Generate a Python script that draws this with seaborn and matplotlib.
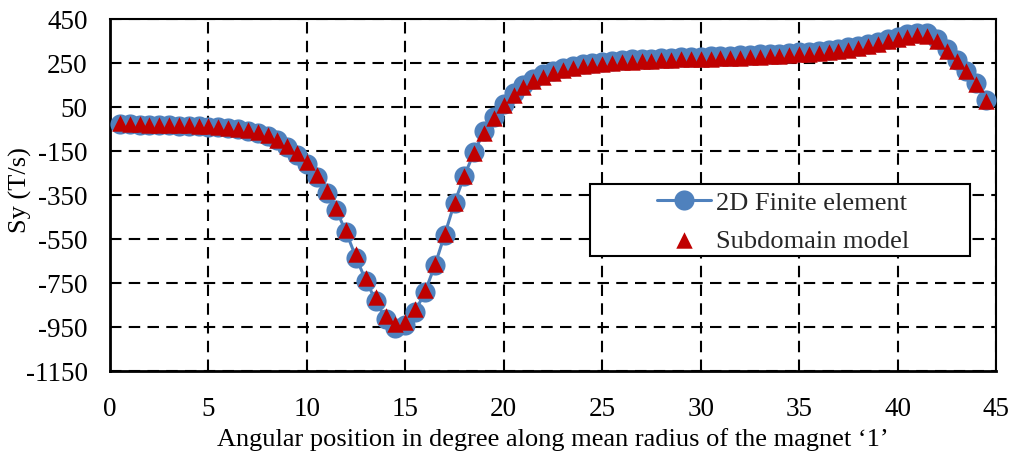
import matplotlib
matplotlib.use("Agg")
import matplotlib.pyplot as plt
import seaborn as sns
import pandas as pd
from matplotlib.patches import Rectangle

angle = [0.5, 1.0, 1.5, 2.0, 2.5, 3.0, 3.5, 4.0, 4.5, 5.0,
         5.5, 6.0, 6.5, 7.0, 7.5, 8.0, 8.5, 9.0, 9.5, 10.0,
         10.5, 11.0, 11.5, 12.0, 12.5, 13.0, 13.5, 14.0, 14.5, 15.0,
         15.5, 16.0, 16.5, 17.0, 17.5, 18.0, 18.5, 19.0, 19.5, 20.0,
         20.5, 21.0, 21.5, 22.0, 22.5, 23.0, 23.5, 24.0, 24.5, 25.0,
         25.5, 26.0, 26.5, 27.0, 27.5, 28.0, 28.5, 29.0, 29.5, 30.0,
         30.5, 31.0, 31.5, 32.0, 32.5, 33.0, 33.5, 34.0, 34.5, 35.0,
         35.5, 36.0, 36.5, 37.0, 37.5, 38.0, 38.5, 39.0, 39.5, 40.0,
         40.5, 41.0, 41.5, 42.0, 42.5, 43.0, 43.5, 44.0, 44.5]

fe_2d = [-25, -29, -31, -32, -33, -34, -35, -36, -38, -40,
         -43, -47, -52, -58, -66, -80, -102, -132, -168, -210,
         -268, -340, -420, -520, -635, -740, -830, -915, -955, -940,
         -880, -790, -670, -530, -385, -262, -155, -60, 5, 65,
         115, 150, 178, 198, 214, 227, 237, 245, 251, 256,
         260, 263, 266, 268, 270, 272, 274, 276, 277, 279,
         280, 282, 283, 285, 287, 289, 291, 293, 296, 299,
         302, 306, 310, 315, 321, 328, 337, 347, 358, 370,
         381, 388, 385, 360, 312, 262, 215, 160, 80]

subdomain = [-22, -27, -29, -30, -31, -32, -33, -34, -36, -38,
             -41, -45, -50, -56, -64, -77, -98, -126, -160, -200,
             -258, -330, -410, -508, -620, -725, -815, -900, -935, -925,
             -868, -780, -662, -525, -385, -265, -160, -66, -2, 58,
             106, 140, 168, 188, 204, 217, 227, 235, 241, 246,
             250, 253, 256, 258, 260, 262, 264, 266, 267, 269,
             270, 272, 273, 275, 277, 279, 281, 283, 286, 289,
             292, 296, 300, 305, 311, 318, 327, 337, 348, 360,
             370, 376, 372, 348, 305, 258, 212, 155, 78]

df = pd.DataFrame({"angle": angle, "fe": fe_2d, "sub": subdomain})

sns.set_theme(style="white")
plt.rcParams["font.family"] = ["Liberation Serif", "DejaVu Serif"]
plt.rcParams["axes.unicode_minus"] = False

fig = plt.figure(figsize=(10.11, 4.56), dpi=100)
ax = fig.add_axes([110 / 1011, 1 - 372 / 456, 886 / 1011, 352 / 456])

sns.lineplot(data=df, x="angle", y="fe", ax=ax, color="#4F81BD", linewidth=2.2,
             marker="o", markersize=14.5, markeredgewidth=0, label="2D Finite element",
             zorder=3)
sns.scatterplot(data=df, x="angle", y="sub", ax=ax, color="#C00000", marker="^",
                s=140, linewidth=0, label="Subdomain model", zorder=4)

ax.set_xlim(0, 45)
ax.set_ylim(-1150, 450)
ax.set_xticks(range(0, 46, 5))
ax.set_yticks(range(-1150, 451, 200))
ax.tick_params(axis="both", length=0, labelsize=19.5, colors="black")
ax.tick_params(axis="y", pad=16)
ax.tick_params(axis="x", pad=18)
ax.grid(True, color="black", linestyle=(0, (5.5, 3.5)), linewidth=1.5)
for s in ax.spines.values():
    s.set_color("black")
    s.set_linewidth(1.5)
ax.spines["left"].set_linewidth(2)
ax.spines["bottom"].set_linewidth(2)

ax.set_xlabel("Angular position in degree along mean radius of the magnet \u20181\u2019",
              fontsize=19, color="black", labelpad=4)
ax.set_ylabel("Sy (T/s)", fontsize=19, color="black")
ax.yaxis.set_label_coords(-0.088, 0.517)

rect = Rectangle((0.542, 0.327), 0.429, 0.204, transform=ax.transAxes,
                 facecolor="white", edgecolor="black", linewidth=1.5, zorder=5)
ax.add_patch(rect)
leg = ax.legend(loc="center", bbox_to_anchor=(0.76, 0.426), frameon=False,
                fontsize=19, handlelength=2.05, handletextpad=0.2, labelspacing=0.55)
leg.set_zorder(6)

fig.savefig("out.png", dpi=100)
